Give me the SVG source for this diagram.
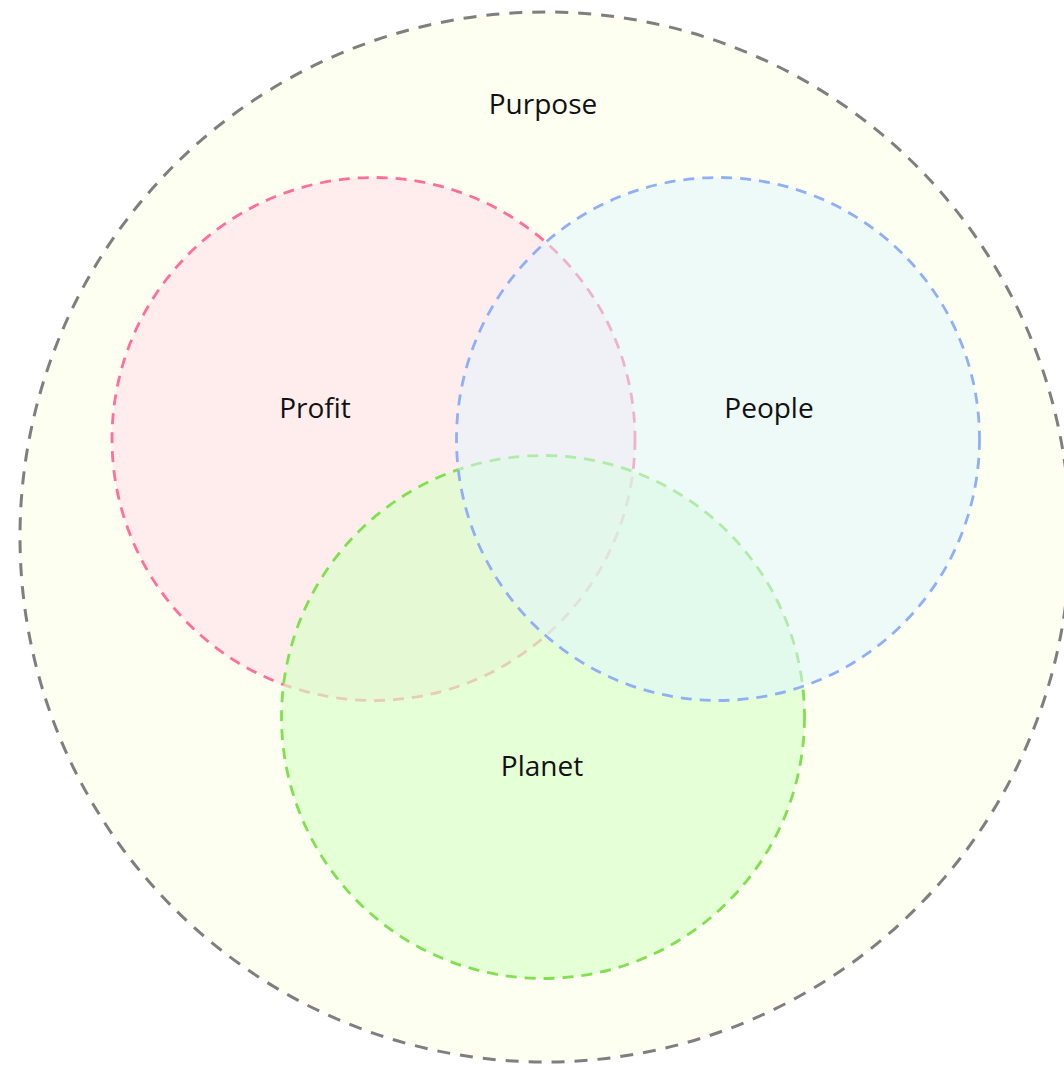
<svg xmlns="http://www.w3.org/2000/svg" width="1064" height="1065" viewBox="0 0 1064 1065">
  <style>
    .label { font-family: "Open Sans", "Noto Sans", "Liberation Sans", sans-serif; font-size: 28px; fill: #111111; text-anchor: middle; }
    .outer { fill: #fdfff0; stroke: #7f7f7f; stroke-width: 3; stroke-dasharray: 13 10; }
    .set { stroke-width: 2.8; stroke-dasharray: 11 8; }
    .profit { fill: #ffeded; stroke: #ff6f9a; }
    .planet { fill: #d9ffc8; fill-opacity: 0.65; stroke: #80e050; }
    .people { fill: #dff5ff; fill-opacity: 0.5; stroke: #8fb0f5; }
  </style>
  <rect width="1064" height="1065" fill="#ffffff"/>

  <!-- outer purpose circle -->
  <g id="purpose">
    <circle class="outer" cx="545" cy="537" r="525"/>
    <text class="label" x="543" y="114">Purpose</text>
  </g>

  <!-- three overlapping sets; later ones are translucent and tint what lies beneath -->
  <g id="profit">
    <circle class="set profit" cx="373.5" cy="439" r="261.5"/>
  </g>
  <g id="planet">
    <circle class="set planet" cx="543" cy="717" r="261.5"/>
  </g>
  <g id="people">
    <circle class="set people" cx="718" cy="439" r="261.5"/>
  </g>

  <!-- set labels -->
  <g id="labels">
    <text class="label" x="315" y="418">Profit</text>
    <text class="label" x="769" y="418">People</text>
    <text class="label" x="542" y="776">Planet</text>
  </g>

  <g id="connectors"/>
</svg>
